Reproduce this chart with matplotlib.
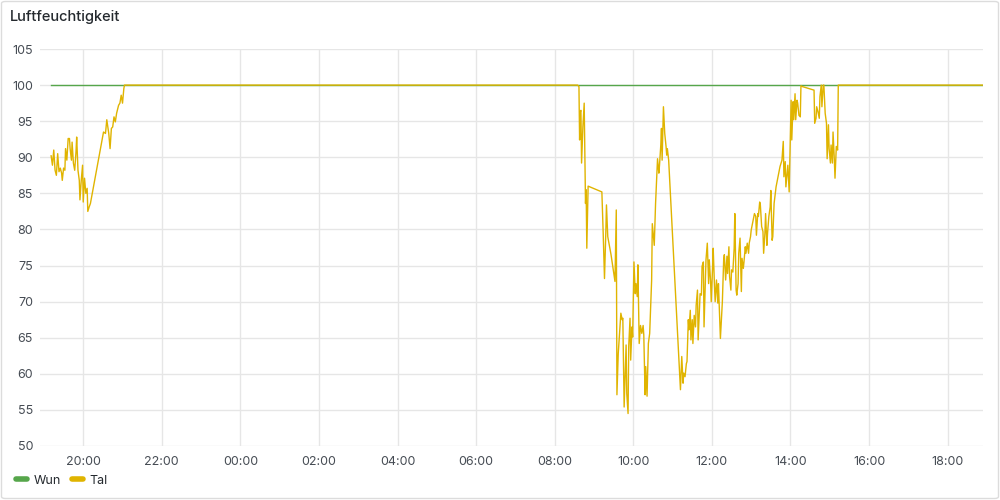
import pandas as pd
import matplotlib
matplotlib.use("Agg")
import matplotlib.pyplot as plt
import matplotlib.dates as mdates
from matplotlib.lines import Line2D
from matplotlib.patches import FancyBboxPatch

# --- Daten ---
day1 = "2024-05-01"
day2 = "2024-05-02"

wun_times = [(day1, "19:11"), (day2, "18:55")]
wun_vals = [100, 100]

tal_day1_time = ["19:11", "19:13", "19:15", "19:17", "19:19", "19:21", "19:23", "19:25",
                 "19:27", "19:28", "19:30", "19:32", "19:33", "19:35", "19:37", "19:39",
                 "19:40", "19:42", "19:43", "19:45", "19:47", "19:49", "19:50", "19:52",
                 "19:54", "19:55", "19:57", "19:59", "20:00", "20:02", "20:04", "20:06",
                 "20:07", "20:09", "20:11", "20:31", "20:34", "20:36", "20:39", "20:41",
                 "20:43", "20:45", "20:47", "20:49", "20:51", "20:54", "20:56", "20:58",
                 "21:00", "21:02", "21:03"]
tal_day1_val = [90.2, 88.9, 91.0, 88.2, 87.5, 90.5, 88.0, 88.5,
                87.8, 86.8, 88.5, 88.2, 91.2, 89.6, 92.6, 92.6,
                91.2, 89.6, 92.1, 89.2, 88.2, 90.8, 92.8, 88.2,
                86.8, 84.1, 86.8, 88.9, 83.8, 87.1, 85.0, 85.7,
                82.5, 83.1, 83.6, 93.5, 93.3, 95.2, 93.3, 91.2,
                94.0, 94.2, 95.6, 94.9, 96.1, 97.2, 97.5, 98.6,
                97.5, 99.5, 100]

tal_day2_time = ["08:35", "08:37", "08:38", "08:39", "08:40", "08:41", "08:43", "08:45",
                 "08:47", "08:48", "08:49", "08:51", "09:12", "09:14", "09:16", "09:18",
                 "09:19", "09:21", "09:26", "09:32", "09:34", "09:35", "09:37", "09:39",
                 "09:41", "09:43", "09:44", "09:46", "09:49", "09:50", "09:52", "09:53",
                 "09:55", "09:56", "09:58", "09:59", "10:01", "10:03", "10:04", "10:06",
                 "10:07", "10:09", "10:11", "10:13", "10:15", "10:16", "10:18", "10:19",
                 "10:21", "10:23", "10:25", "10:26", "10:28", "10:29", "10:31", "10:32",
                 "10:34", "10:35", "10:37", "10:39", "10:40", "10:42", "10:43", "10:44",
                 "10:45", "10:46", "10:48", "10:50", "10:51", "10:52", "10:54", "11:12",
                 "11:14", "11:16", "11:17", "11:19", "11:21", "11:22", "11:24", "11:25",
                 "11:27", "11:28", "11:30", "11:31", "11:33", "11:35", "11:36", "11:38",
                 "11:39", "11:41", "11:42", "11:44", "11:45", "11:47", "11:48", "11:50",
                 "11:51", "11:53", "11:55", "11:56", "11:58", "11:59", "12:01", "12:02",
                 "12:04", "12:05", "12:07", "12:09", "12:10", "12:12", "12:13", "12:15",
                 "12:16", "12:18", "12:19", "12:21", "12:23", "12:24", "12:26", "12:27",
                 "12:29", "12:30", "12:32", "12:34", "12:35", "12:37", "12:38", "12:40",
                 "12:41", "12:43", "12:45", "12:46", "12:48", "12:49", "12:51", "12:52",
                 "12:54", "12:56", "12:57", "12:59", "13:00", "13:02", "13:03", "13:05",
                 "13:07", "13:08", "13:10", "13:11", "13:13", "13:14", "13:16", "13:18",
                 "13:19", "13:21", "13:22", "13:24", "13:25", "13:27", "13:29", "13:30",
                 "13:32", "13:33", "13:35", "13:38", "13:41", "13:44", "13:47", "13:49",
                 "13:50", "13:52", "13:53", "13:55", "13:56", "13:58", "13:59", "14:01",
                 "14:02", "14:04", "14:05", "14:07", "14:08", "14:10", "14:11", "14:13",
                 "14:15", "14:16", "14:18", "14:36", "14:37", "14:39", "14:40", "14:42",
                 "14:44", "14:45", "14:47", "14:48", "14:50", "14:51", "14:53", "14:55",
                 "14:56", "14:58", "14:59", "15:01", "15:02", "15:04", "15:05", "15:07",
                 "15:08", "15:10", "15:12", "15:13", "18:55"]
tal_day2_val = [100, 99.8, 92.4, 96.3, 96.5, 89.2, 94.2, 97.5,
                83.6, 85.5, 77.4, 86.0, 85.2, 79.5, 73.2, 79.5,
                83.4, 79.0, 76.5, 72.8, 82.7, 57.1, 62.8, 65.6,
                68.4, 67.5, 67.7, 55.4, 64.0, 57.3, 54.5, 63.8,
                67.7, 61.9, 66.5, 65.1, 75.5, 71.1, 72.5, 70.7,
                75.1, 64.2, 66.7, 65.6, 66.7, 65.4, 57.1, 61.0,
                56.9, 64.2, 65.6, 68.1, 73.0, 80.8, 78.8, 77.8,
                83.6, 85.7, 89.8, 87.8, 88.9, 91.7, 94.0, 89.6,
                93.1, 97.0, 93.3, 91.5, 90.3, 91.2, 89.6, 57.8,
                62.4, 58.7, 60.1, 59.6, 61.4, 61.7, 67.5, 66.1,
                68.8, 64.7, 67.5, 64.2, 68.1, 66.5, 69.5, 71.6,
                64.7, 68.8, 71.1, 70.9, 74.9, 75.5, 66.5, 73.0,
                75.8, 78.1, 72.5, 75.8, 72.8, 70.0, 74.6, 77.4,
                72.1, 70.0, 73.0, 69.8, 72.5, 67.5, 64.9, 68.4,
                70.0, 75.8, 76.5, 73.0, 76.3, 73.9, 77.6, 73.5,
                71.6, 74.4, 74.1, 77.4, 82.2, 71.6, 70.9, 72.5,
                76.7, 78.8, 71.4, 76.0, 74.6, 75.5, 77.6, 76.7,
                78.1, 76.7, 78.1, 79.0, 79.9, 80.8, 81.3, 82.2,
                81.8, 79.2, 82.2, 81.8, 83.8, 83.4, 80.4, 79.7,
                76.7, 79.5, 82.2, 77.8, 79.5, 81.8, 83.1, 85.4,
                78.5, 79.0, 83.6, 85.9, 87.3, 88.7, 89.6, 92.2,
                87.3, 89.4, 85.9, 87.8, 88.9, 85.2, 89.6, 97.9,
                92.4, 97.7, 95.2, 98.8, 95.2, 97.9, 97.5, 95.8,
                95.6, 99.9, 99.8, 99.3, 94.7, 95.4, 97.0, 96.3,
                95.4, 98.4, 100, 97.0, 100, 100, 96.1, 94.7,
                89.8, 94.5, 91.2, 89.2, 91.7, 89.2, 93.5, 89.6,
                87.1, 91.5, 91.0, 100, 100]

y_ticks = [50, 55, 60, 65, 70, 75, 80, 85, 90, 95, 100, 105]

# --- Zeitachsen bauen ---
wun_x = pd.to_datetime([d + " " + t for d, t in wun_times])
tal_x = pd.to_datetime([day1 + " " + t for t in tal_day1_time] +
                       [day2 + " " + t for t in tal_day2_time])
tal_y = tal_day1_val + tal_day2_val

GREEN = "#56A64B"
YELLOW = "#E0B400"
TEXT = "#24292E"
TICK = "#464C54"
GRID = "#E6E6E6"

plt.rcParams["font.family"] = ["Inter", "DejaVu Sans"]

fig = plt.figure(figsize=(10, 5), dpi=100)
fig.patch.set_facecolor("white")
fig.patches.append(FancyBboxPatch((0.0015, 0.003), 0.997, 0.994,
                                  boxstyle="round,pad=0,rounding_size=0.004",
                                  transform=fig.transFigure, facecolor="none",
                                  edgecolor="#DCDCDC", linewidth=1))

ax = fig.add_axes([0.040, 0.108, 0.943, 0.794])
ax.plot(wun_x, wun_vals, color=GREEN, linewidth=1, zorder=3)
ax.plot(tal_x, tal_y, color=YELLOW, linewidth=1, zorder=4)

ax.set_xlim(pd.Timestamp(day1 + " 18:54"), pd.Timestamp(day2 + " 18:54"))
ax.set_ylim(50, 105)
ax.set_yticks(y_ticks)
ax.xaxis.set_major_locator(mdates.HourLocator(byhour=range(0, 24, 2)))
ax.xaxis.set_major_formatter(mdates.DateFormatter("%H:%M"))

ax.grid(True, color=GRID, linewidth=1)
ax.set_axisbelow(True)
for s in ax.spines.values():
    s.set_visible(False)
ax.tick_params(axis="both", length=0, labelsize=9, labelcolor=TICK)
ax.tick_params(axis="y", pad=5)
ax.tick_params(axis="x", pad=7)

fig.text(0.010, 0.966, "Luftfeuchtigkeit", fontsize=10.5, color=TEXT,
         va="center", ha="left", fontweight="medium")

handles = [Line2D([], [], color=GREEN, linewidth=4, solid_capstyle="round"),
           Line2D([], [], color=YELLOW, linewidth=4, solid_capstyle="round")]
fig.legend(handles, ["Wun", "Tal"], loc="center left", bbox_to_anchor=(0.016, 0.039),
           ncol=2, frameon=False, fontsize=9, labelcolor=TEXT, handlelength=0.85,
           handletextpad=0.55, columnspacing=0.9, borderaxespad=0, borderpad=0)

fig.savefig("out.png", dpi=100, facecolor="white")
